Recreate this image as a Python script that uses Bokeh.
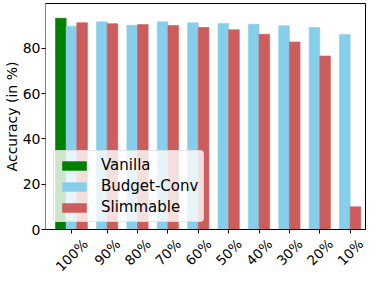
import numpy as np
from bokeh.plotting import figure
from bokeh.models import (ColumnDataSource, FixedTicker, Range1d, LinearAxis,
                          Legend, LegendItem)
from bokeh.embed import file_html
from bokeh.resources import INLINE

categories = ["100%", "90%", "80%", "70%", "60%", "50%", "40%", "30%", "20%", "10%"]
vanilla = [93.3]
budget_conv = [89.8, 91.7, 90.2, 91.7, 91.3, 91.0, 90.6, 90.0, 89.2, 86.1]
slimmable = [91.3, 90.9, 90.5, 90.1, 89.2, 88.2, 86.2, 82.8, 76.6, 10.0]
y_ticks = [0, 20, 40, 60, 80]

W = 0.35
idx = np.arange(len(categories))
tick_pos = [0.0] + [float(i) + W / 2 for i in idx[1:]]

FONT = "DejaVu Sans"
FS = "14px"
XFS_PX = 13.5
XFS = f"{XFS_PX}px"

WIDTH, HEIGHT = 367, 283
MBL, MBR, MBT, MBB = 44, 2, 3, 40
X0, X1 = -0.855, 9.68

p = figure(width=WIDTH, height=HEIGHT, output_backend="svg", toolbar_location=None,
           x_range=Range1d(X0, X1), y_range=Range1d(0, 99.8),
           min_border_left=MBL, min_border_right=MBR, min_border_top=MBT,
           min_border_bottom=MBB)

src_v = ColumnDataSource(dict(x=[-W], top=vanilla))
src_b = ColumnDataSource(dict(x=idx.astype(float), top=budget_conv))
src_s = ColumnDataSource(dict(x=idx + W, top=slimmable))

rv = p.vbar(x="x", top="top", width=W, source=src_v, fill_color="#008000",
            line_color="#008000", line_alpha=0.6)
rb = p.vbar(x="x", top="top", width=W, source=src_b, fill_color="#87CEEB",
            line_color="#87CEEB", line_alpha=0.6)
rs = p.vbar(x="x", top="top", width=W, source=src_s, fill_color="#CD5C5C",
            line_color="#CD5C5C", line_alpha=0.6)

p.xgrid.visible = False
p.ygrid.visible = False
p.outline_line_color = "black"
p.outline_line_width = 1

# x axis 1: tick marks only
ax1 = p.xaxis[0]
ax1.ticker = FixedTicker(ticks=tick_pos)
ax1.major_label_overrides = {t: "" for t in tick_pos}
ax1.major_label_text_font_size = "1px"
ax1.major_label_standoff = 0
ax1.major_tick_out = 4
ax1.major_tick_in = 0
ax1.minor_tick_line_color = None
ax1.axis_line_color = "black"
ax1.major_tick_line_color = "black"

# x axis 2: rotated labels, shifted so that each label is centred on its tick
char_w = {"0": 0.636, "1": 0.636, "2": 0.636, "3": 0.636, "4": 0.636, "5": 0.636,
          "6": 0.636, "7": 0.636, "8": 0.636, "9": 0.636, "%": 0.950}
frame_w = WIDTH - 48 - MBR
px_per_unit = frame_w / (X1 - X0)
label_pos = []
for t, c in zip(tick_pos, categories):
    w = sum(char_w[ch] for ch in c) * XFS_PX
    label_pos.append(t + (w / 2) * np.cos(np.pi / 4) / px_per_unit)
ax2 = LinearAxis(ticker=FixedTicker(ticks=label_pos),
                 major_label_overrides={lp: c for lp, c in zip(label_pos, categories)},
                 major_label_orientation=np.pi / 4,
                 major_label_text_font=FONT, major_label_text_font_size=XFS,
                 major_label_text_color="black", major_label_standoff=2,
                 axis_line_color=None, major_tick_line_color=None,
                 minor_tick_line_color=None)
p.add_layout(ax2, "below")

p.yaxis.ticker = FixedTicker(ticks=y_ticks)
p.yaxis.major_tick_out = 4
p.yaxis.major_tick_in = 0
p.yaxis.minor_tick_line_color = None
p.yaxis.axis_line_color = "#808080"
p.yaxis.major_tick_line_color = "black"
p.yaxis.major_label_standoff = 1
p.yaxis.major_label_text_font = FONT
p.yaxis.major_label_text_font_size = FS
p.yaxis.major_label_text_color = "black"
p.yaxis.axis_label = "Accuracy (in %)"
p.yaxis.axis_label_text_font = FONT
p.yaxis.axis_label_text_font_size = FS
p.yaxis.axis_label_text_font_style = "normal"
p.yaxis.axis_label_text_color = "black"
p.yaxis.axis_label_standoff = 0

legend = Legend(items=[LegendItem(label="Vanilla", renderers=[rv]),
                       LegendItem(label="Budget-Conv", renderers=[rb]),
                       LegendItem(label="Slimmable", renderers=[rs])],
                location=(8, 7), glyph_width=30, glyph_height=11,
                label_standoff=12, label_height=17, spacing=3, padding=5,
                margin=0,
                label_text_font=FONT, label_text_font_size="15px",
                label_text_color="black", label_text_baseline="middle",
                border_line_color="#cccccc", border_line_width=1,
                background_fill_color="white", background_fill_alpha=0.8)
if "border_radius" in Legend.properties():
    legend.border_radius = 4
p.add_layout(legend)

open("out.html", "w").write(file_html(p, INLINE))
